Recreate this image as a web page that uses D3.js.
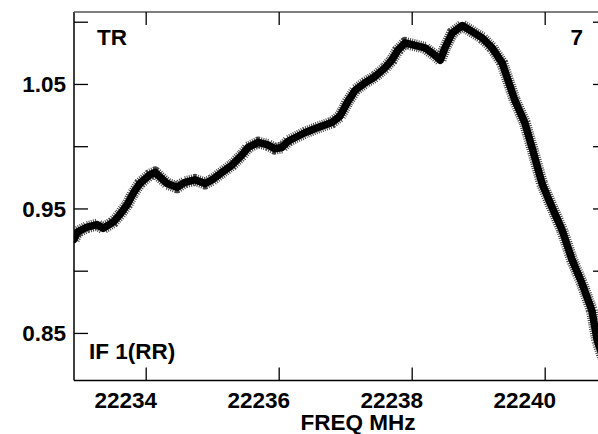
<!DOCTYPE html>
<html><head><meta charset="utf-8">
<script src="https://cdn.jsdelivr.net/npm/d3@7"></script>
<style>body{margin:0;background:#fff}svg{display:block}text{font-family:"Liberation Sans",Arial,Helvetica,sans-serif;font-weight:bold;font-size:22.5px;fill:#000}</style>
</head><body><svg id="c" width="598" height="434"></svg>
<script>
const freq = [22232.92,22232.97,22233.12,22233.27,22233.36,22233.51,22233.61,22233.72,22233.81,22233.91,
22234.06,22234.14,22234.22,22234.32,22234.47,22234.59,22234.74,22234.89,22235.00,22235.15,
22235.30,22235.45,22235.54,22235.69,22235.84,22235.94,22236.05,22236.14,22236.25,22236.40,
22236.59,22236.80,22236.92,22237.03,22237.15,22237.30,22237.45,22237.60,22237.70,22237.79,
22237.90,22238.05,22238.20,22238.35,22238.43,22238.50,22238.61,22238.76,22238.91,22239.06,
22239.21,22239.36,22239.43,22239.55,22239.70,22239.82,22239.96,22240.11,22240.26,22240.41,
22240.56,22240.71,22240.79,22240.88];
const amp = [0.925,0.931,0.935,0.937,0.934,0.939,0.945,0.953,0.962,0.970,
0.977,0.979,0.975,0.970,0.967,0.971,0.973,0.970,0.973,0.979,
0.985,0.993,0.999,1.003,1.001,0.998,0.999,1.004,1.007,1.011,
1.015,1.019,1.024,1.035,1.045,1.051,1.056,1.063,1.069,1.077,
1.083,1.081,1.079,1.073,1.069,1.079,1.091,1.097,1.092,1.087,
1.079,1.067,1.056,1.037,1.019,0.997,0.970,0.951,0.933,0.909,
0.890,0.868,0.844,0.830];
const xTicks = [22234,22236,22238,22240];
const yTicks = [0.85,0.90,0.95,1.00,1.05,1.10];
const yLabels = [0.85,0.95,1.05];
const xTitle = "FREQ MHz";
const topLeft = "TR", topRight = "7", bottomLeft = "IF 1(RR)";

const L=74,R=607,T=12,B=380.5;
const x = d3.scaleLinear().domain([22232.922,22240.937]).range([L,R]);
const y = d3.scaleLinear().domain([0.8118,1.1078]).range([B,T]);
const svg = d3.select("#c");
const data = freq.map((f,i)=>({f,v:amp[i]}));

const defs = svg.append("defs");
defs.append("clipPath").attr("id","clip").append("rect").attr("x",L).attr("y",T).attr("width",598-L).attr("height",B-T);
const g = svg.append("g").attr("clip-path","url(#clip)");
const line = d3.line().x(d=>x(d.f)).y(d=>y(d.v)).curve(d3.curveLinear);
g.append("path").datum(data).attr("d",line).attr("fill","none").attr("stroke","#444")
 .attr("stroke-width",12).attr("stroke-dasharray","1,1.2").attr("stroke-linejoin","round");
g.append("path").datum(data).attr("d",line).attr("fill","none").attr("stroke","#000")
 .attr("stroke-width",7.5).attr("stroke-linejoin","round").attr("stroke-linecap","round");

// frame
const fr = svg.append("g").attr("stroke","#000").attr("stroke-width",1.5).attr("fill","none");
fr.append("line").attr("x1",L).attr("x2",L).attr("y1",T).attr("y2",B);
fr.append("line").attr("x1",L).attr("x2",598).attr("y1",B).attr("y2",B);
fr.append("line").attr("x1",L).attr("x2",598).attr("y1",T).attr("y2",T).attr("stroke","#555");

// axes via d3
const ax = (a)=>a.tickSizeOuter(0).tickFormat("");
svg.append("g").attr("transform",`translate(0,${B})`).call(ax(d3.axisTop(x).tickValues(xTicks).tickSize(13)))
  .call(s=>{s.select(".domain").remove();s.selectAll("line").attr("stroke-width",1.3);});
svg.append("g").attr("transform",`translate(0,${T})`).call(ax(d3.axisBottom(x).tickValues(xTicks).tickSize(13)))
  .call(s=>{s.select(".domain").remove();s.selectAll("line").attr("stroke-width",1.3);});
svg.append("g").attr("transform",`translate(${L},0)`).call(ax(d3.axisRight(y).tickValues(yTicks).tickSize(14)))
  .call(s=>{s.select(".domain").remove();s.selectAll("line").attr("stroke-width",1.3);});
svg.append("g").attr("transform",`translate(${R},0)`).call(ax(d3.axisLeft(y).tickValues(yTicks).tickSize(14)))
  .call(s=>{s.select(".domain").remove();s.selectAll("line").attr("stroke-width",1.3);});

// labels
svg.append("g").selectAll("text").data(xTicks).join("text")
  .attr("x",d=>x(d)-20).attr("y",408).attr("text-anchor","middle").text(d=>d);
svg.append("g").selectAll("text").data(yLabels).join("text")
  .attr("x",66).attr("y",d=>y(d)+8.5).attr("text-anchor","end").text(d=>d.toFixed(2));
svg.append("text").attr("x",358).attr("y",430).attr("text-anchor","middle").text(xTitle);
svg.append("text").attr("x",97).attr("y",45).text(topLeft);
svg.append("text").attr("x",583).attr("y",45).attr("text-anchor","end").text(topRight);
svg.append("text").attr("x",89).attr("y",359).text(bottomLeft);
</script></body></html>
